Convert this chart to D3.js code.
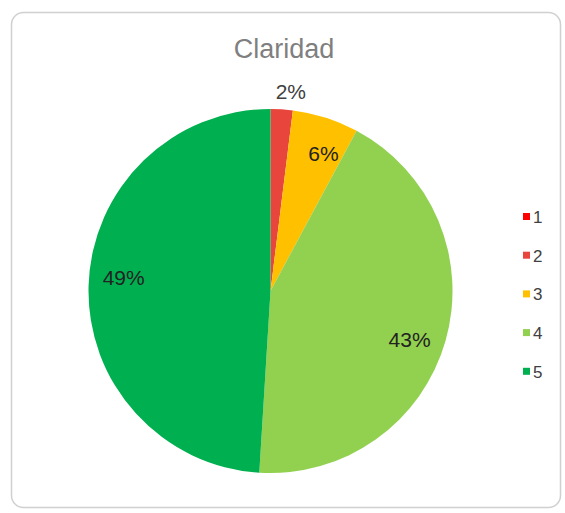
<!DOCTYPE html>
<html>
<head>
<meta charset="utf-8">
<script src="https://cdn.jsdelivr.net/npm/d3@7"></script>
<style>
  body { margin: 0; background: #fff; }
</style>
</head>
<body>
<div id="chart"></div>
<script>
// survey answers (1..5) for "Claridad"
const categories = ["1", "2", "3", "4", "5"];
const counts = [0, 1, 3, 22, 25];
const colors = ["#FF0000", "#E8453C", "#FFC000", "#92D050", "#00B050"];
const title = "Claridad";

const width = 565, height = 513;
const svg = d3.select("#chart").append("svg")
  .attr("width", width).attr("height", height);

// card frame
svg.append("rect")
  .attr("x", 11.5).attr("y", 12.5)
  .attr("width", 549).attr("height", 495)
  .attr("rx", 12).attr("ry", 12)
  .attr("fill", "#fff")
  .attr("stroke", "#d0d0d0")
  .attr("stroke-width", 1.5);

svg.append("text")
  .attr("x", 284).attr("y", 58)
  .attr("text-anchor", "middle")
  .attr("font-family", "Liberation Sans, Arial, sans-serif")
  .attr("font-size", 27)
  .attr("fill", "#7f7f7f")
  .text(title);

const cx = 270.5, cy = 291, R = 182;
const g = svg.append("g").attr("transform", `translate(${cx},${cy})`);

const pie = d3.pie().sort(null).value(d => d.value);
const data = categories.map((c, i) => ({ cat: c, value: counts[i], color: colors[i] }));
const arcs = pie(data);
const total = d3.sum(counts);

const arc = d3.arc().innerRadius(0).outerRadius(R);

g.selectAll("path.slice")
  .data(arcs)
  .enter().append("path")
  .attr("class", "slice")
  .attr("d", arc)
  .attr("fill", d => d.data.color);

// labels: inside for big slices, outside for tiny ones
const small = d => d.value / total < 0.04;
function labelPos(d) {
  const mid = (d.startAngle + d.endAngle) / 2 + (small(d) ? 0.04 : 0.06);
  const r = small(d) ? R * 1.1 : R * 0.81;
  return [Math.sin(mid) * r, -Math.cos(mid) * r];
}

g.selectAll("text.lbl")
  .data(arcs.filter(d => d.value > 0))
  .enter().append("text")
  .attr("class", "lbl")
  .attr("transform", d => `translate(${labelPos(d)})`)
  .attr("text-anchor", "middle")
  .attr("dy", "0.35em")
  .attr("font-family", "Liberation Sans, Arial, sans-serif")
  .attr("font-size", 21)
  .attr("fill", d => small(d) ? "#404040" : "#222")
  .text(d => Math.round(d.value / total * 100) + "%");

// legend
const legend = svg.append("g").attr("transform", "translate(523,217)");
const item = legend.selectAll("g")
  .data(data)
  .enter().append("g")
  .attr("transform", (d, i) => `translate(0,${i * 38.7})`);

item.append("rect")
  .attr("x", 0).attr("y", -4)
  .attr("width", 7).attr("height", 7)
  .attr("fill", d => d.color);

item.append("text")
  .attr("x", 10).attr("y", 0)
  .attr("dy", "0.35em")
  .attr("font-family", "Liberation Sans, Arial, sans-serif")
  .attr("font-size", 17)
  .attr("fill", "#404040")
  .text(d => d.cat);
</script>
</body>
</html>
